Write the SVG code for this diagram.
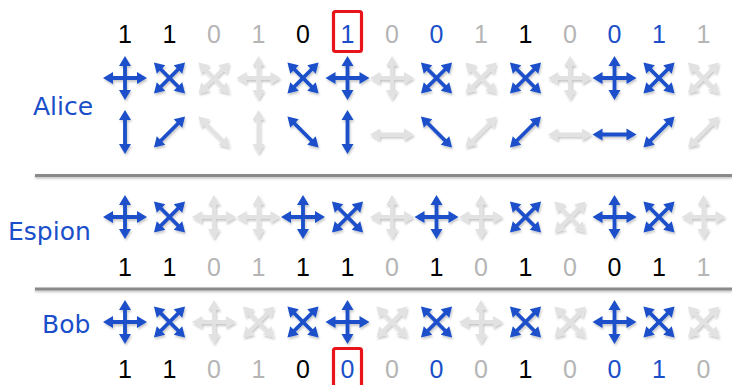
<svg xmlns="http://www.w3.org/2000/svg" xmlns:xlink="http://www.w3.org/1999/xlink" width="732" height="385" viewBox="0 0 732 385">
<style>
.b{fill:#1a4fc9}
.g{fill:#e2e2e2}
.sym{filter:url(#sh)}
.d{font-family:"Liberation Sans",Arial,sans-serif;font-size:25px;text-anchor:middle}
.k{fill:#000}
.gt{fill:#b5b5b5}
.bt{fill:#1a4fc9}
.lbl{font-family:"DejaVu Sans","Noto Sans",sans-serif;font-size:25px;fill:#1a4fc9}
.sep{stroke:#8a8a8a;stroke-width:3;fill:none}
.box{fill:none;stroke:#e8141a;stroke-width:3.2}
</style>
<defs>
<filter id="sh" x="-30%" y="-30%" width="160%" height="160%">
<feDropShadow dx="1" dy="2" stdDeviation="1.2" flood-color="#000" flood-opacity="0.22"/>
</filter>
<filter id="sh2" filterUnits="userSpaceOnUse" x="0" y="160" width="732" height="150">
<feDropShadow dx="0" dy="1.5" stdDeviation="1" flood-color="#000" flood-opacity="0.25"/>
</filter>
<path id="a" d="M-22 0 L-12 -6 L-12 -1.9 L12 -1.9 L12 -6 L22 0 L12 6 L12 1.9 L-12 1.9 L-12 6 Z"/>
<g id="plus"><use xlink:href="#a"/><use xlink:href="#a" transform="rotate(90)"/></g>
<g id="cross"><use xlink:href="#a" transform="rotate(45)"/><use xlink:href="#a" transform="rotate(-45)"/></g>
</defs>
<rect width="732" height="385" fill="#fff"/>

<g id="alice-label"><text class="lbl" x="33" y="115">Alice</text></g>

<g id="alice-bits" class="d">
<text class="k" x="125" y="43">1</text>
<text class="k" x="169.5" y="43">1</text>
<text class="gt" x="214" y="43">0</text>
<text class="gt" x="258.5" y="43">1</text>
<text class="k" x="303" y="43">0</text>
<text class="bt" x="347.5" y="43">1</text>
<text class="gt" x="392" y="43">0</text>
<text class="bt" x="436.5" y="43">0</text>
<text class="gt" x="481" y="43">1</text>
<text class="k" x="525.5" y="43">1</text>
<text class="gt" x="570" y="43">0</text>
<text class="bt" x="614.5" y="43">0</text>
<text class="bt" x="659" y="43">1</text>
<text class="gt" x="703.5" y="43">1</text>
</g>
<g id="alice-box"><rect class="box" x="333.5" y="11.5" width="28" height="40" rx="2"/></g>

<g id="alice-bases" class="sym">
<use xlink:href="#plus" class="b" transform="translate(125,78)"/>
<use xlink:href="#cross" class="b" transform="translate(169.5,78)"/>
<use xlink:href="#cross" class="g" transform="translate(214,78)"/>
<use xlink:href="#plus" class="g" transform="translate(258.5,78)"/>
<use xlink:href="#cross" class="b" transform="translate(303,78)"/>
<use xlink:href="#plus" class="b" transform="translate(347.5,78)"/>
<use xlink:href="#plus" class="g" transform="translate(392,78)"/>
<use xlink:href="#cross" class="b" transform="translate(436.5,78)"/>
<use xlink:href="#cross" class="g" transform="translate(481,78)"/>
<use xlink:href="#cross" class="b" transform="translate(525.5,78)"/>
<use xlink:href="#plus" class="g" transform="translate(570,78)"/>
<use xlink:href="#plus" class="b" transform="translate(614.5,78)"/>
<use xlink:href="#cross" class="b" transform="translate(659,78)"/>
<use xlink:href="#cross" class="g" transform="translate(703.5,78)"/>
</g>

<g id="alice-photons" class="sym">
<use xlink:href="#a" class="b" transform="translate(125,132) rotate(90)"/>
<use xlink:href="#a" class="b" transform="translate(169.5,132) rotate(-45)"/>
<use xlink:href="#a" class="g" transform="translate(214,132) rotate(45)"/>
<use xlink:href="#a" class="g" transform="translate(258.5,132) rotate(90)"/>
<use xlink:href="#a" class="b" transform="translate(303,132) rotate(45)"/>
<use xlink:href="#a" class="b" transform="translate(347.5,132) rotate(90)"/>
<use xlink:href="#a" class="g" transform="translate(392,134.5)"/>
<use xlink:href="#a" class="b" transform="translate(436.5,132) rotate(45)"/>
<use xlink:href="#a" class="g" transform="translate(481,132) rotate(-45)"/>
<use xlink:href="#a" class="b" transform="translate(525.5,132) rotate(-45)"/>
<use xlink:href="#a" class="g" transform="translate(570,134.5)"/>
<use xlink:href="#a" class="b" transform="translate(614.5,134.5)"/>
<use xlink:href="#a" class="b" transform="translate(659,132) rotate(-45)"/>
<use xlink:href="#a" class="g" transform="translate(703.5,132) rotate(-45)"/>
</g>

<g id="separators" filter="url(#sh2)">
<line class="sep" x1="35" y1="175.5" x2="732" y2="175.5"/>
<line class="sep" x1="35" y1="289" x2="732" y2="289"/>
</g>

<g id="espion-label"><text class="lbl" x="8" y="240">Espion</text></g>

<g id="espion-bases" class="sym">
<use xlink:href="#plus" class="b" transform="translate(125,217)"/>
<use xlink:href="#cross" class="b" transform="translate(169.5,217)"/>
<use xlink:href="#plus" class="g" transform="translate(214,217)"/>
<use xlink:href="#plus" class="g" transform="translate(258.5,217)"/>
<use xlink:href="#plus" class="b" transform="translate(303,217)"/>
<use xlink:href="#cross" class="b" transform="translate(347.5,217)"/>
<use xlink:href="#plus" class="g" transform="translate(392,217)"/>
<use xlink:href="#plus" class="b" transform="translate(436.5,217)"/>
<use xlink:href="#plus" class="g" transform="translate(481,217)"/>
<use xlink:href="#cross" class="b" transform="translate(525.5,217)"/>
<use xlink:href="#cross" class="g" transform="translate(570,217)"/>
<use xlink:href="#plus" class="b" transform="translate(614.5,217)"/>
<use xlink:href="#cross" class="b" transform="translate(659,217)"/>
<use xlink:href="#plus" class="g" transform="translate(703.5,217)"/>
</g>

<g id="espion-bits" class="d">
<text class="k" x="125" y="276">1</text>
<text class="k" x="169.5" y="276">1</text>
<text class="gt" x="214" y="276">0</text>
<text class="gt" x="258.5" y="276">1</text>
<text class="k" x="303" y="276">1</text>
<text class="k" x="347.5" y="276">1</text>
<text class="gt" x="392" y="276">0</text>
<text class="k" x="436.5" y="276">1</text>
<text class="gt" x="481" y="276">0</text>
<text class="k" x="525.5" y="276">1</text>
<text class="gt" x="570" y="276">0</text>
<text class="k" x="614.5" y="276">0</text>
<text class="k" x="659" y="276">1</text>
<text class="gt" x="703.5" y="276">1</text>
</g>

<g id="bob-label"><text class="lbl" x="42" y="333">Bob</text></g>

<g id="bob-bases" class="sym">
<use xlink:href="#plus" class="b" transform="translate(125,322)"/>
<use xlink:href="#cross" class="b" transform="translate(169.5,322)"/>
<use xlink:href="#plus" class="g" transform="translate(214,322)"/>
<use xlink:href="#cross" class="g" transform="translate(258.5,322)"/>
<use xlink:href="#cross" class="b" transform="translate(303,322)"/>
<use xlink:href="#plus" class="b" transform="translate(347.5,322)"/>
<use xlink:href="#cross" class="g" transform="translate(392,322)"/>
<use xlink:href="#cross" class="b" transform="translate(436.5,322)"/>
<use xlink:href="#plus" class="g" transform="translate(481,322)"/>
<use xlink:href="#cross" class="b" transform="translate(525.5,322)"/>
<use xlink:href="#cross" class="g" transform="translate(570,322)"/>
<use xlink:href="#plus" class="b" transform="translate(614.5,322)"/>
<use xlink:href="#cross" class="b" transform="translate(659,322)"/>
<use xlink:href="#cross" class="g" transform="translate(703.5,322)"/>
</g>

<g id="bob-bits" class="d">
<text class="k" x="125" y="378">1</text>
<text class="k" x="169.5" y="378">1</text>
<text class="gt" x="214" y="378">0</text>
<text class="gt" x="258.5" y="378">1</text>
<text class="k" x="303" y="378">0</text>
<text class="bt" x="347.5" y="378">0</text>
<text class="gt" x="392" y="378">0</text>
<text class="bt" x="436.5" y="378">0</text>
<text class="gt" x="481" y="378">0</text>
<text class="k" x="525.5" y="378">1</text>
<text class="gt" x="570" y="378">0</text>
<text class="bt" x="614.5" y="378">0</text>
<text class="bt" x="659" y="378">1</text>
<text class="gt" x="703.5" y="378">0</text>
</g>
<g id="bob-box"><rect class="box" x="333.5" y="348.5" width="28" height="45" rx="2"/></g>
</svg>
